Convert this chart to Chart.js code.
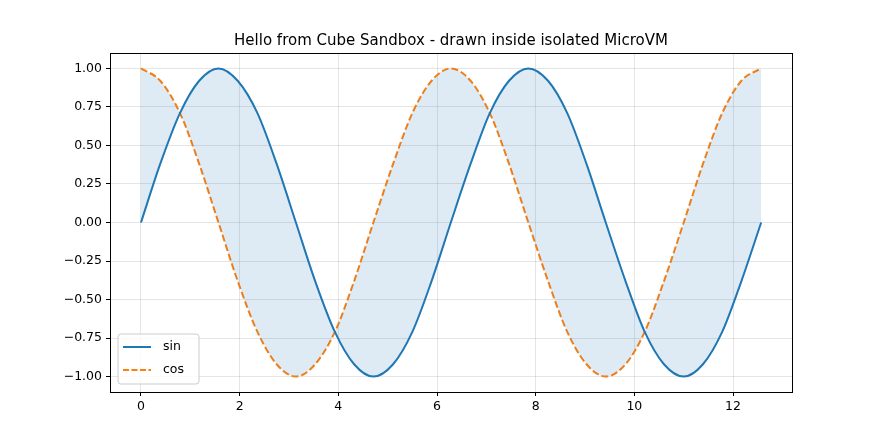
<!DOCTYPE html>
<html>
<head>
<meta charset="utf-8">
<script src="https://cdn.jsdelivr.net/npm/chart.js@4"></script>
<style>
  body { margin: 0; background: #fff; }
  #wrap { width: 880px; height: 440px; }
</style>
</head>
<body>
<div id="wrap"><canvas id="chart"></canvas></div>
<script>
// samples every pi/8 from 0 to 4*pi
const xValues = [0, 0.39, 0.79, 1.18, 1.57, 1.96, 2.36, 2.75, 3.14, 3.53, 3.93, 4.32, 4.71, 5.11, 5.50, 5.89,
  6.28, 6.68, 7.07, 7.46, 7.85, 8.25, 8.64, 9.03, 9.42, 9.82, 10.21, 10.60, 11.00, 11.39, 11.78, 12.17, 12.57];
const sinValues = [0, 0.38, 0.71, 0.92, 1, 0.92, 0.71, 0.38, 0, -0.38, -0.71, -0.92, -1, -0.92, -0.71, -0.38,
  0, 0.38, 0.71, 0.92, 1, 0.92, 0.71, 0.38, 0, -0.38, -0.71, -0.92, -1, -0.92, -0.71, -0.38, 0];
const cosValues = [1, 0.92, 0.71, 0.38, 0, -0.38, -0.71, -0.92, -1, -0.92, -0.71, -0.38, 0, 0.38, 0.71, 0.92,
  1, 0.92, 0.71, 0.38, 0, -0.38, -0.71, -0.92, -1, -0.92, -0.71, -0.38, 0, 0.38, 0.71, 0.92, 1];
const xTicks = [0, 2, 4, 6, 8, 10, 12];
const yTicks = [-1, -0.75, -0.5, -0.25, 0, 0.25, 0.5, 0.75, 1];
const titleText = 'Hello from Cube Sandbox - drawn inside isolated MicroVM';

const font = { family: 'DejaVu Sans', size: 12.5 };

const frameAndLegend = {
  id: 'frameAndLegend',
  afterDraw(chart) {
    const { ctx, chartArea: a } = chart;
    ctx.save();
    ctx.strokeStyle = '#000';
    ctx.lineWidth = 1;
    ctx.strokeRect(a.left + 0.5, a.top + 0.5, a.right - a.left, a.bottom - a.top);
    // title centred over the plot area
    ctx.fillStyle = '#000';
    ctx.font = '15px DejaVu Sans';
    ctx.textAlign = 'center';
    ctx.textBaseline = 'alphabetic';
    ctx.fillText(titleText, (a.left + a.right) / 2, a.top - 8);
    ctx.textAlign = 'left';
    // legend box, lower left
    const bx = a.left + 8, by = a.bottom - 58, bw = 81, bh = 50;
    ctx.fillStyle = 'rgba(255,255,255,0.8)';
    ctx.strokeStyle = '#ccc';
    ctx.beginPath();
    ctx.roundRect(bx, by, bw, bh, 3);
    ctx.fill(); ctx.stroke();
    ctx.lineWidth = 2;
    ctx.font = '12.5px DejaVu Sans';
    ctx.textBaseline = 'middle';
    [['sin', '#1f77b4', []], ['cos', '#ff7f0e', [6, 2.5]]].forEach(([label, color, dash], i) => {
      const y = by + 13 + i * 23;
      ctx.strokeStyle = color;
      ctx.setLineDash(dash);
      ctx.beginPath(); ctx.moveTo(bx + 5, y); ctx.lineTo(bx + 33, y); ctx.stroke();
      ctx.setLineDash([]);
      ctx.fillStyle = '#000';
      ctx.fillText(label, bx + 45, y);
    });
    ctx.restore();
  }
};

const pts = ys => xValues.map((x, i) => ({ x, y: ys[i] }));
const fmt = v => (v < 0 ? '\u2212' : '') + Math.abs(v).toFixed(2);

new Chart(document.getElementById('chart'), {
  type: 'line',
  data: {
    datasets: [{
      label: 'sin',
      data: pts(sinValues),
      borderColor: '#1f77b4',
      borderWidth: 2,
      backgroundColor: 'rgba(31,119,180,0.15)',
      fill: '+1',
      pointRadius: 0,
      cubicInterpolationMode: 'monotone'
    }, {
      label: 'cos',
      data: pts(cosValues),
      borderColor: '#ff7f0e',
      borderWidth: 2,
      borderDash: [7, 3],
      fill: false,
      pointRadius: 0,
      cubicInterpolationMode: 'monotone'
    }]
  },
  options: {
    responsive: true,
    maintainAspectRatio: false,
    animation: false,
    layout: { padding: { top: 53, right: 88 } },
    plugins: {
      legend: { display: false },
      tooltip: { enabled: false },
      title: { display: false }
    },
    scales: {
      x: {
        type: 'linear',
        min: -0.628,
        max: 13.195,
        afterBuildTicks: s => { s.ticks = xTicks.map(v => ({ value: v })); },
        afterFit: s => { s.height = 48; },
        grid: { color: 'rgba(0,0,0,0.1)', tickColor: '#000', tickLength: 4 },
        border: { display: false },
        ticks: { color: '#000', font, padding: 3, maxRotation: 0 }
      },
      y: {
        min: -1.1,
        max: 1.1,
        afterBuildTicks: s => { s.ticks = yTicks.map(v => ({ value: v })); },
        afterFit: s => { s.width = 110; },
        grid: { color: 'rgba(0,0,0,0.1)', tickColor: '#000', tickLength: 4 },
        border: { display: false },
        ticks: { color: '#000', font, padding: 4, callback: v => fmt(v) }
      }
    }
  },
  plugins: [frameAndLegend]
});
</script>
</body>
</html>
